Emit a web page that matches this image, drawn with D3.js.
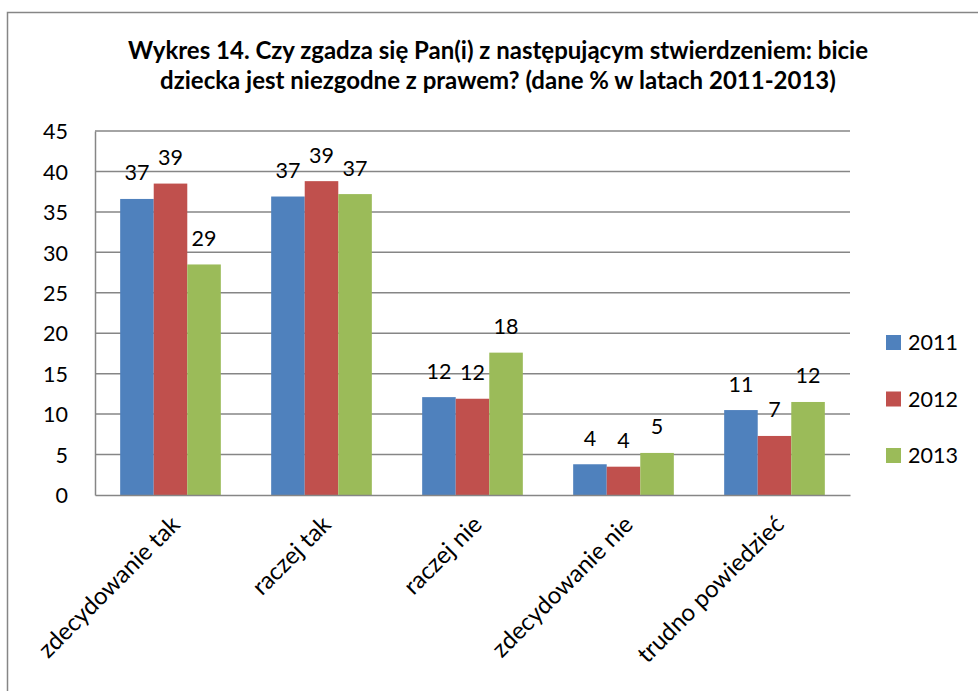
<!DOCTYPE html>
<html><head><meta charset="utf-8">
<script src="https://cdn.jsdelivr.net/npm/d3@7"></script>
<style>
html,body{margin:0;padding:0;background:#fff;}
svg{display:block;font-family:Lato, "Open Sans", sans-serif;}
</style></head>
<body>
<svg id="chart" width="978" height="691"></svg>
<script>
const titleLines = ["Wykres 14. Czy zgadza się Pan(i) z następującym stwierdzeniem: bicie",
                    "dziecka jest niezgodne z prawem? (dane % w latach 2011-2013)"];
const categories = ["zdecydowanie tak","raczej tak","raczej nie","zdecydowanie nie","trudno powiedzieć"];
const seriesNames = ["2011","2012","2013"];
const values2011 = [36.6, 36.9, 12.1, 3.8, 10.5];
const values2012 = [38.5, 38.8, 11.9, 3.5, 7.3];
const values2013 = [28.5, 37.2, 17.6, 5.2, 11.5];
const labels2011 = ["37","37","12","4","11"];
const labels2012 = ["39","39","12","4","7"];
const labels2013 = ["29","37","18","5","12"];
const yTicks = [0,5,10,15,20,25,30,35,40,45];
const colors = ["#4F81BD","#C0504D","#9BBB59"];

const series = [
  {name: seriesNames[0], values: values2011, labels: labels2011, color: colors[0]},
  {name: seriesNames[1], values: values2012, labels: labels2012, color: colors[1]},
  {name: seriesNames[2], values: values2013, labels: labels2013, color: colors[2]}
];

const svg = d3.select("#chart");
const gridColor = "#868686";
const fs = 21.5;

// chart border
svg.append("rect").attr("x",7.5).attr("y",12.5).attr("width",1000).attr("height",700)
  .attr("fill","none").attr("stroke",gridColor).attr("stroke-width",1.5);

// title
const title = svg.append("text").attr("text-anchor","middle").attr("font-weight","bold")
  .attr("font-size",24).attr("fill","#000");
titleLines.forEach((t,i)=>{
  title.append("tspan").attr("x",498).attr("y",59 + i*30).text(t);
});

const plotL = 95, plotR = 850, plotT = 131, plotB = 495;
const x0 = d3.scaleBand().domain(categories).range([plotL,plotR]).paddingInner(0).paddingOuter(0);
const x1 = d3.scaleBand().domain(seriesNames).range([0,x0.bandwidth()]).paddingInner(0).paddingOuter(0.75);
const y = d3.scaleLinear().domain([0,45]).range([plotB,plotT]);

// gridlines
svg.append("g").selectAll("line").data(yTicks.filter(d=>d>0)).join("line")
  .attr("x1",plotL).attr("x2",plotR).attr("y1",d=>y(d)).attr("y2",d=>y(d))
  .attr("stroke",gridColor).attr("stroke-width",1.5);

// y axis
const yAxis = svg.append("g").attr("transform",`translate(${plotL},0)`)
  .call(d3.axisLeft(y).tickValues(yTicks).tickSize(0).tickPadding(27));
yAxis.select(".domain").attr("stroke",gridColor).attr("stroke-width",1.5);
yAxis.selectAll("text").attr("font-size",fs).attr("font-family","Lato").attr("fill","#000").attr("dy","0.36em");

// bars
const groups = svg.append("g").selectAll("g").data(series).join("g").attr("fill",d=>d.color);
groups.selectAll("rect").data(s=>categories.map((c,i)=>({c, v:s.values[i], name:s.name})))
  .join("rect")
  .attr("x",d=>x0(d.c)+x1(d.name))
  .attr("width",x1.bandwidth())
  .attr("y",d=>y(d.v))
  .attr("height",d=>y(0)-y(d.v));

// data labels
const lab = svg.append("g").attr("font-size",fs).attr("text-anchor","middle").attr("fill","#000");
series.forEach(s=>{
  lab.append("g").selectAll("text").data(categories.map((c,i)=>({c, v:s.values[i], t:s.labels[i], name:s.name})))
    .join("text")
    .attr("x",d=>x0(d.c)+x1(d.name)+x1.bandwidth()/2)
    .attr("y",d=>y(d.v)-18.5)
    .text(d=>d.t);
});

// x axis
const xAxis = svg.append("g").attr("transform",`translate(0,${plotB})`)
  .call(d3.axisBottom(x0).tickSize(0).tickFormat(d=>d));
xAxis.select(".domain").attr("stroke",gridColor).attr("stroke-width",1.5);
xAxis.selectAll("text")
  .attr("font-size",24).attr("font-family","Lato").attr("fill","#000")
  .attr("text-anchor","end")
  .attr("transform","translate(11,31) rotate(-45)")
  .attr("y",0).attr("x",0).attr("dy",0);

// legend
const legend = svg.append("g").selectAll("g").data(series).join("g")
  .attr("transform",(d,i)=>`translate(886,${335 + i*56.5})`);
legend.append("rect").attr("width",15).attr("height",15).attr("fill",d=>d.color);
legend.append("text").attr("x",22).attr("y",7.5).attr("dy","0.36em").attr("font-size",fs).attr("fill","#000").text(d=>d.name);
</script>
</body></html>
